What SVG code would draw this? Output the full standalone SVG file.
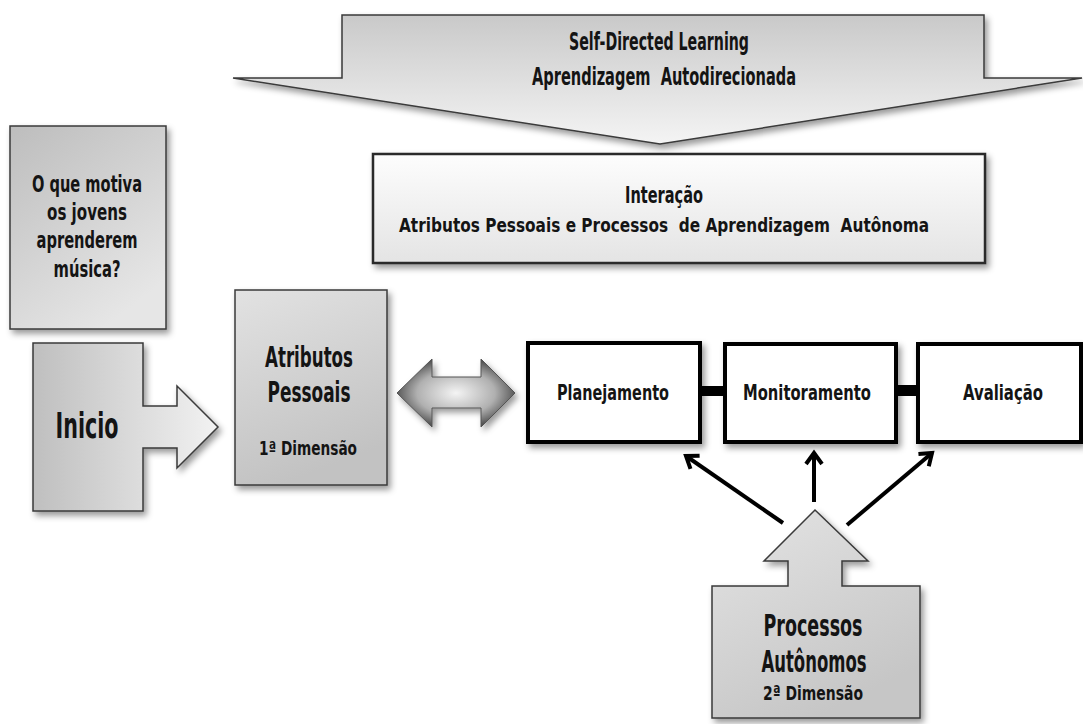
<svg xmlns="http://www.w3.org/2000/svg" width="1083" height="724" viewBox="0 0 1083 724">
  <defs>
    <style>
      text { font-family: "Liberation Sans Narrow", "DejaVu Sans Condensed", "Liberation Sans", sans-serif; font-weight: bold; fill: #141414; text-anchor: middle; }
      .gshape { stroke: #3a3a3a; stroke-width: 1.5; }
      .step { fill: #ffffff; stroke: #000000; stroke-width: 4; }
      .arrow { stroke: #000000; stroke-width: 4; fill: none; marker-end: url(#openHead); }
    </style>
    <filter id="shadow" x="-10%" y="-10%" width="130%" height="130%">
      <feDropShadow dx="3" dy="4" stdDeviation="3" flood-color="#000" flood-opacity="0.4"/>
    </filter>
    <linearGradient id="gCallout" x1="0" y1="0" x2="0" y2="1">
      <stop offset="0" stop-color="#c9c9c9"/>
      <stop offset="1" stop-color="#f4f4f4"/>
    </linearGradient>
    <linearGradient id="gPanel" x1="0" y1="0" x2="0" y2="1">
      <stop offset="0" stop-color="#fdfdfd"/>
      <stop offset="1" stop-color="#e4e4e4"/>
    </linearGradient>
    <linearGradient id="gQuestion" x1="0" y1="0" x2="0.6" y2="1">
      <stop offset="0" stop-color="#bdbdbd"/>
      <stop offset="1" stop-color="#e6e6e6"/>
    </linearGradient>
    <linearGradient id="gStart" x1="0" y1="0" x2="1" y2="0">
      <stop offset="0" stop-color="#bfbfbf"/>
      <stop offset="1" stop-color="#f2f2f2"/>
    </linearGradient>
    <linearGradient id="gAttr" x1="0" y1="0" x2="0.3" y2="1">
      <stop offset="0" stop-color="#e2e2e2"/>
      <stop offset="1" stop-color="#c2c2c2"/>
    </linearGradient>
    <linearGradient id="gProc" x1="0" y1="0" x2="0.5" y2="1">
      <stop offset="0" stop-color="#e4e4e4"/>
      <stop offset="1" stop-color="#c6c6c6"/>
    </linearGradient>
    <radialGradient id="gDouble" cx="0.5" cy="0.5" r="0.55">
      <stop offset="0" stop-color="#f4f4f4"/>
      <stop offset="0.6" stop-color="#b0b0b0"/>
      <stop offset="1" stop-color="#404040"/>
    </radialGradient>
    <marker id="openHead" markerUnits="userSpaceOnUse" markerWidth="20" markerHeight="20" viewBox="0 0 20 20" refX="15" refY="10" orient="auto">
      <path d="M4,2 L15,10 L4,18" fill="none" stroke="#000" stroke-width="4" stroke-linejoin="miter"/>
    </marker>
  </defs>

  <rect width="1083" height="724" fill="#ffffff"/>

  <!-- top down-pointing callout -->
  <g id="self-directed">
    <path class="gshape" d="M342,15 L984,15 L984,78 L1082,78 L660,144 L233,78 L342,78 Z" fill="url(#gCallout)" filter="url(#shadow)"/>
    <text x="659" y="50" font-size="24" textLength="180" lengthAdjust="spacingAndGlyphs">Self-Directed Learning</text>
    <text x="664" y="85" font-size="24" textLength="264" lengthAdjust="spacingAndGlyphs" xml:space="preserve">Aprendizagem  Autodirecionada</text>
  </g>

  <!-- interaction panel -->
  <g id="interacao">
    <rect x="373" y="154" width="612" height="109" fill="url(#gPanel)" stroke="#2a2a2a" stroke-width="2.5" filter="url(#shadow)"/>
    <text x="664" y="203" font-size="23" textLength="78" lengthAdjust="spacingAndGlyphs">Interação</text>
    <text x="664" y="232" font-size="20" textLength="530" lengthAdjust="spacingAndGlyphs" xml:space="preserve">Atributos Pessoais e Processos  de Aprendizagem  Autônoma</text>
  </g>

  <!-- guiding question -->
  <g id="pergunta">
    <rect class="gshape" x="10" y="126" width="156" height="203" fill="url(#gQuestion)" filter="url(#shadow)"/>
    <text x="87" y="192" font-size="23" textLength="110" lengthAdjust="spacingAndGlyphs">O que motiva</text>
    <text x="87" y="220" font-size="23" textLength="80" lengthAdjust="spacingAndGlyphs">os jovens</text>
    <text x="87" y="248" font-size="23" textLength="101" lengthAdjust="spacingAndGlyphs">aprenderem</text>
    <text x="87" y="277" font-size="23" textLength="67" lengthAdjust="spacingAndGlyphs">música?</text>
  </g>

  <!-- start block with arrow -->
  <g id="inicio">
    <path class="gshape" d="M33,343 L143,343 L143,406 L177,406 L177,386 L218,427 L177,468 L177,448 L143,448 L143,511 L33,511 Z" fill="url(#gStart)" filter="url(#shadow)"/>
    <text x="87" y="438" font-size="36" textLength="63" lengthAdjust="spacingAndGlyphs">Inicio</text>
  </g>

  <!-- first dimension -->
  <g id="atributos">
    <rect class="gshape" x="235" y="290" width="152" height="195" fill="url(#gAttr)" filter="url(#shadow)"/>
    <text x="309" y="367" font-size="28" textLength="88" lengthAdjust="spacingAndGlyphs">Atributos</text>
    <text x="309" y="402" font-size="28" textLength="83" lengthAdjust="spacingAndGlyphs">Pessoais</text>
    <text x="308" y="455" font-size="19" textLength="98" lengthAdjust="spacingAndGlyphs">1ª Dimensão</text>
  </g>

  <!-- two-way arrow -->
  <g id="interacao-seta">
    <path d="M397,393 L432,359 L432,377 L481,377 L481,359 L515,393 L481,427 L481,408 L432,408 L432,427 Z" fill="url(#gDouble)" stroke="#555" stroke-width="1" filter="url(#shadow)"/>
  </g>

  <!-- process steps -->
  <g id="planejamento">
    <rect class="step" x="528" y="343" width="172" height="99" filter="url(#shadow)"/>
    <text x="613" y="400" font-size="21" textLength="112" lengthAdjust="spacingAndGlyphs">Planejamento</text>
  </g>
  <g id="monitoramento">
    <rect class="step" x="725" y="344" width="171" height="98" filter="url(#shadow)"/>
    <text x="807" y="400" font-size="21" textLength="128" lengthAdjust="spacingAndGlyphs">Monitoramento</text>
  </g>
  <g id="avaliacao">
    <rect class="step" x="918" y="344" width="163" height="98" filter="url(#shadow)"/>
    <text x="1003" y="400" font-size="21" textLength="80" lengthAdjust="spacingAndGlyphs">Avaliação</text>
  </g>

  <!-- second dimension -->
  <g id="processos">
    <path class="gshape" d="M815,510 L868,561 L842,561 L842,586 L920,586 L920,718 L712,718 L712,586 L788,586 L788,561 L764,561 Z" fill="url(#gProc)" filter="url(#shadow)"/>
    <text x="813" y="636" font-size="30" textLength="99" lengthAdjust="spacingAndGlyphs">Processos</text>
    <text x="814" y="672" font-size="30" textLength="105" lengthAdjust="spacingAndGlyphs">Autônomos</text>
    <text x="813" y="700" font-size="20" textLength="100" lengthAdjust="spacingAndGlyphs">2ª Dimensão</text>
  </g>

  <!-- connectors -->
  <g id="connectors">
    <rect x="700" y="386" width="25" height="10" fill="#000"/>
    <rect x="896" y="385" width="22" height="11" fill="#000"/>
    <line class="arrow" x1="783" y1="523" x2="686" y2="456"/>
    <line class="arrow" x1="814" y1="502" x2="814" y2="453"/>
    <line class="arrow" x1="847" y1="525" x2="932" y2="453"/>
  </g>
</svg>
